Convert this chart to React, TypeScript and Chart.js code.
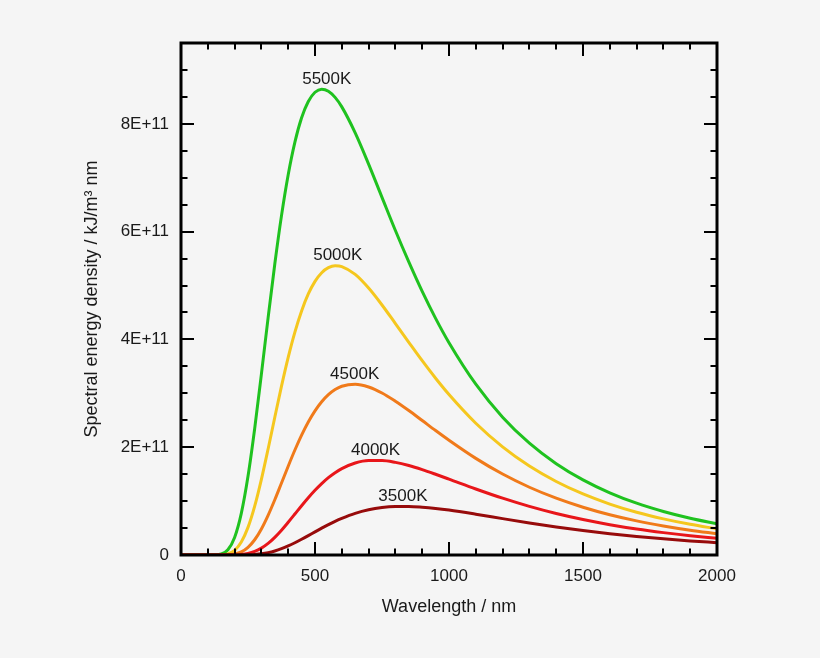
import React, { useEffect, useRef } from "react";
import { Chart, registerables } from "chart.js";

Chart.register(...registerables);

// Wavelength samples (nm)
const wavelengths = [
  0, 100, 150, 175, 200, 225, 250, 275, 300, 325, 350, 375, 400, 425, 450, 475,
  500, 525, 550, 575, 600, 650, 700, 750, 800, 850, 900, 950, 1000, 1100, 1200,
  1300, 1400, 1500, 1600, 1700, 1800, 1900, 2000,
];

// Spectral energy density, in units of 1E+11
const density5500 = [
  0, 0, 0.0175, 0.098, 0.326, 0.773, 1.46, 2.348, 3.357, 4.401, 5.4, 6.297,
  7.056, 7.661, 8.112, 8.414, 8.586, 8.644, 8.606, 8.491, 8.315, 7.833, 7.253,
  6.636, 6.021, 5.438, 4.891, 4.391, 3.939, 3.169, 2.558, 2.075, 1.695, 1.394,
  1.154, 0.961, 0.807, 0.681, 0.578,
];
const density5000 = [
  0, 0, 0.0031, 0.022, 0.088, 0.242, 0.513, 0.907, 1.404, 1.967, 2.557, 3.133,
  3.667, 4.136, 4.529, 4.843, 5.077, 5.238, 5.331, 5.367, 5.352, 5.206, 4.953,
  4.639, 4.294, 3.947, 3.605, 3.28, 2.978, 2.445, 2.007, 1.651, 1.364, 1.132,
  0.945, 0.793, 0.67, 0.569, 0.485,
];
const density4500 = [
  0, 0, 0.0004, 0.0035, 0.0178, 0.0584, 0.143, 0.283, 0.484, 0.736, 1.025,
  1.336, 1.648, 1.948, 2.224, 2.468, 2.675, 2.843, 2.974, 3.069, 3.131, 3.169,
  3.118, 3.006, 2.853, 2.68, 2.495, 2.309, 2.129, 1.793, 1.502, 1.257, 1.054,
  0.886, 0.747, 0.633, 0.539, 0.46, 0.396,
];
const density4000 = [
  0, 0, 0, 0.0004, 0.0024, 0.0099, 0.0289, 0.0663, 0.128, 0.215, 0.327, 0.46,
  0.607, 0.76, 0.915, 1.063, 1.201, 1.326, 1.436, 1.528, 1.604, 1.708, 1.754,
  1.754, 1.719, 1.66, 1.584, 1.498, 1.408, 1.225, 1.054, 0.902, 0.77, 0.658,
  0.563, 0.482, 0.415, 0.358, 0.31,
];
const density3500 = [
  0, 0, 0, 0, 0.0002, 0.001, 0.0037, 0.0102, 0.023, 0.0442, 0.0754, 0.117,
  0.168, 0.227, 0.292, 0.36, 0.43, 0.498, 0.563, 0.625, 0.68, 0.773, 0.839,
  0.88, 0.899, 0.901, 0.887, 0.864, 0.833, 0.757, 0.675, 0.595, 0.52, 0.454,
  0.395, 0.344, 0.3, 0.262, 0.229,
];

// y-axis tick values (in units of 1E+11)
const yTickValues = [0, 2, 4, 6, 8];

const seriesNames = ["5500K", "5000K", "4500K", "4000K", "3500K"];
const seriesValues = [density5500, density5000, density4500, density4000, density3500];
const seriesColors = ["#1fc21f", "#f5c71e", "#f07a1a", "#e8161a", "#970b0b"];
// Wavelength (nm) above which each temperature label sits
const labelWavelengths = [544, 585, 648, 726, 828];

const FONT_FAMILY = '"Liberation Sans", Arial, Helvetica, sans-serif';
const TEXT_COLOR = "#1a1a1a";
const BG = "#f5f5f5";

const backgroundPlugin = {
  id: "pageBackground",
  beforeDraw(chart: any) {
    const { ctx, width, height } = chart;
    ctx.save();
    ctx.fillStyle = BG;
    ctx.fillRect(0, 0, width, height);
    ctx.restore();
  },
};

// Closed frame with inward-pointing major and minor ticks on all four sides
const framePlugin = {
  id: "frameTicks",
  afterDatasetsDraw(chart: any) {
    const { ctx, chartArea } = chart;
    const { left, right, top, bottom } = chartArea;
    const xs = chart.scales.x;
    const ys = chart.scales.y;
    const MAJOR = 13;
    const MINOR = 6.5;
    ctx.save();
    ctx.strokeStyle = "#000";
    ctx.lineWidth = 2;
    ctx.beginPath();
    for (let i = 0; xs.min + i * 100 <= xs.max + 1e-6; i++) {
      const v = xs.min + i * 100;
      const px = Math.round(xs.getPixelForValue(v));
      const len = i % 5 === 0 ? MAJOR : MINOR;
      ctx.moveTo(px, bottom);
      ctx.lineTo(px, bottom - len);
      ctx.moveTo(px, top);
      ctx.lineTo(px, top + len);
    }
    for (let i = 0; ys.min + i * 0.5 <= ys.max + 1e-6; i++) {
      const v = ys.min + i * 0.5;
      const py = Math.round(ys.getPixelForValue(v));
      const len = i % 4 === 0 ? MAJOR : MINOR;
      ctx.moveTo(left, py);
      ctx.lineTo(left + len, py);
      ctx.moveTo(right, py);
      ctx.lineTo(right - len, py);
    }
    ctx.stroke();
    ctx.lineWidth = 3;
    ctx.strokeRect(left, top, right - left, bottom - top);

    // temperature labels above each curve's maximum
    ctx.fillStyle = TEXT_COLOR;
    ctx.font = `17px ${FONT_FAMILY}`;
    ctx.textAlign = "center";
    ctx.textBaseline = "middle";
    seriesNames.forEach((name, i) => {
      const peak = Math.max(...seriesValues[i]);
      const px = xs.getPixelForValue(labelWavelengths[i]);
      const py = ys.getPixelForValue(peak) - 10;
      ctx.fillText(name, px, py);
    });
    ctx.restore();
  },
};

export default function App() {
  const canvasRef = useRef<HTMLCanvasElement | null>(null);

  useEffect(() => {
    document.body.style.margin = "0";
    document.body.style.background = BG;
    const canvas = canvasRef.current;
    if (!canvas) return;

    const datasets = seriesNames.map((name, i) => ({
      label: name,
      data: wavelengths.map((w, j) => ({ x: w, y: seriesValues[i][j] })),
      borderColor: seriesColors[i],
      backgroundColor: seriesColors[i],
      borderWidth: 3,
      pointRadius: 0,
      fill: false,
      cubicInterpolationMode: "monotone" as const,
    }));

    const chart = new Chart(canvas, {
      type: "line",
      data: { datasets: datasets.slice().reverse() },
      options: {
        animation: false,
        responsive: false,
        devicePixelRatio: 1,
        events: [],
        layout: { padding: { left: 0, right: 103, top: 43, bottom: 0 } },
        font: { family: FONT_FAMILY, size: 17 },
        plugins: {
          legend: { display: false },
          tooltip: { enabled: false },
        },
        scales: {
          x: {
            type: "linear",
            min: 0,
            max: 2000,
            grid: { display: false, drawTicks: false },
            border: { display: false },
            ticks: {
              stepSize: 500,
              padding: 11,
              color: TEXT_COLOR,
              font: { family: FONT_FAMILY, size: 17 },
              maxRotation: 0,
              autoSkip: false,
              includeBounds: false,
              callback: (v: any) => String(v),
            },
            title: {
              display: true,
              text: "Wavelength / nm",
              color: TEXT_COLOR,
              font: { family: FONT_FAMILY, size: 18 },
              padding: { top: 0, bottom: 40 },
            },
            afterFit: (scale: any) => {
              scale.height = 103;
            },
          },
          y: {
            type: "linear",
            min: 0,
            max: 9.5,
            grid: { display: false, drawTicks: false },
            border: { display: false },
            afterBuildTicks: (scale: any) => {
              scale.ticks = yTickValues.map((value) => ({ value }));
            },
            ticks: {
              padding: 12,
              color: TEXT_COLOR,
              font: { family: FONT_FAMILY, size: 17 },
              autoSkip: false,
              callback: (v: any) => (Number(v) === 0 ? "0" : `${v}E+11`),
            },
            title: {
              display: true,
              text: "Spectral energy density / kJ/m³ nm",
              color: TEXT_COLOR,
              font: { family: FONT_FAMILY, size: 18 },
              padding: { top: 81, bottom: 0 },
            },
            afterFit: (scale: any) => {
              scale.width = 181;
            },
          },
        },
      } as any,
      plugins: [backgroundPlugin, framePlugin],
    });

    return () => chart.destroy();
  }, []);

  return (
    <div style={{ width: 820, height: 658 }}>
      <canvas ref={canvasRef} width={820} height={658} style={{ display: "block" }} />
    </div>
  );
}
